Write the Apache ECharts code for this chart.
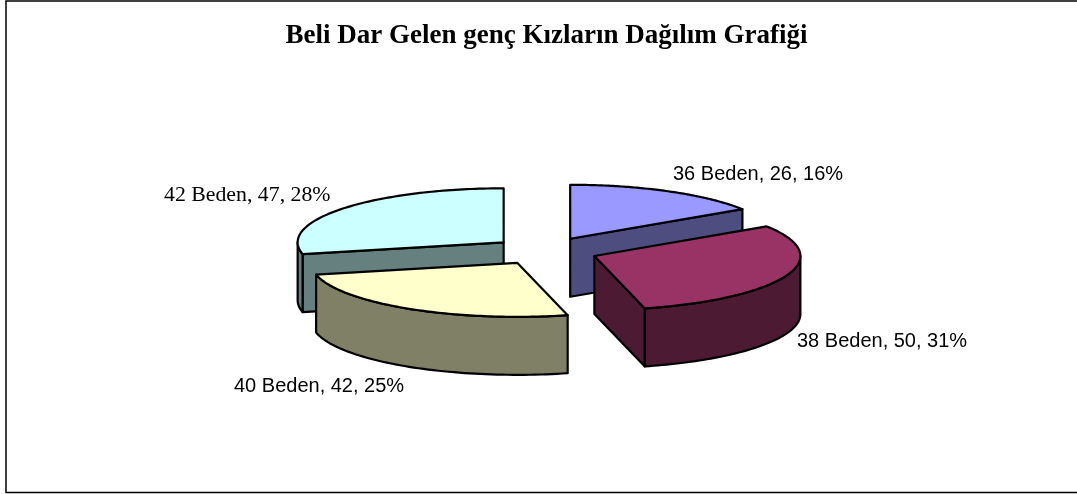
<!DOCTYPE html>
<html>
<head>
<meta charset="utf-8">
<style>html,body{margin:0;padding:0;background:#fff}#c{width:1077px;height:494px}</style>
<script src="https://cdn.jsdelivr.net/npm/echarts@6/dist/echarts.min.js"></script>
</head>
<body>
<div id="c"></div>
<script>
const categories = ['36 Beden', '38 Beden', '40 Beden', '42 Beden'];
const values = [26, 50, 42, 47];
const percents = [16, 31, 25, 28];
const topColors = ['#9999FF', '#993366', '#FFFFCC', '#CCFFFF'];
const sideColors = ['#4D4D80', '#4D1A33', '#808066', '#668080'];
const titleText = 'Beli Dar Gelen genç Kızların Dağılım Grafiği';

// Projection of the tilted pie
const view = { cx: 545, cy: 251, rx: 206, ry: 54, depth: 58, explode: 53 };
const labelPlaces = [
  { x: 673, y: 174, font: '20px "Liberation Sans"' },
  { x: 797, y: 341, font: '20px "Liberation Sans"' },
  { x: 234, y: 386, font: '20px "Liberation Sans"' },
  { x: 164, y: 195, font: '21.8px "Liberation Serif"' }
];
const drawOrder = [0, 3, 1, 2];

const total = values.reduce((a, b) => a + b, 0);
const starts = [];
values.reduce((acc, v, i) => { starts[i] = acc; return acc + v; }, 0);

function renderSlice(params, api) {
  const i = api.value(0);
  const a0 = starts[i] / total * 2 * Math.PI;
  const a1 = (starts[i] + api.value(1)) / total * 2 * Math.PI;
  const mid = (a0 + a1) / 2;
  const cx = view.cx + view.explode * Math.sin(mid);
  const cy = view.cy - view.explode * (view.ry / view.rx) * Math.cos(mid);
  const pt = (a, dz) => [cx + view.rx * Math.sin(a), cy - view.ry * Math.cos(a) + (dz || 0)];
  const apex = [cx, cy];
  const stroke = { stroke: '#000', lineWidth: 2.2, lineJoin: 'round' };
  const children = [];
  const poly = (points, fill) => children.push({
    type: 'polygon', shape: { points }, style: Object.assign({ fill }, stroke)
  });

  // radial wall facing the viewer
  const wall = a => poly([apex, pt(a), pt(a, view.depth), [cx, cy + view.depth]], sideColors[i]);
  if (Math.sin(a0) < -1e-6) wall(a0);
  if (Math.sin(a1) > 1e-6) wall(a1);

  // outer rim on the front half
  const f0 = Math.max(a0, Math.PI / 2), f1 = Math.min(a1, 3 * Math.PI / 2);
  if (f1 > f0) {
    const n = 60, upper = [], lower = [];
    for (let k = 0; k <= n; k++) {
      const a = f0 + (f1 - f0) * k / n;
      upper.push(pt(a));
      lower.unshift(pt(a, view.depth));
    }
    poly(upper.concat(lower), sideColors[i]);
  }

  // top face
  const top = [apex];
  const n = 90;
  for (let k = 0; k <= n; k++) top.push(pt(a0 + (a1 - a0) * k / n));
  poly(top, topColors[i]);

  // label
  const lp = labelPlaces[i];
  children.push({
    type: 'text',
    style: {
      x: lp.x, y: lp.y,
      text: categories[i] + ', ' + api.value(1) + ', ' + percents[i] + '%',
      font: lp.font, fill: '#000',
      textAlign: 'left', textVerticalAlign: 'middle'
    }
  });
  return { type: 'group', children };
}

const chart = echarts.init(document.getElementById('c'), null, { renderer: 'canvas' });
chart.setOption({
  animation: false,
  backgroundColor: '#fff',
  title: {
    text: titleText, left: 541.5, top: 18, textAlign: 'center',
    textStyle: { fontFamily: '"Liberation Serif"', fontWeight: 'bold', fontSize: 27, color: '#000' }
  },
  graphic: [{
    type: 'polyline',
    shape: { points: [[1077, 1], [6, 1], [6, 492.5], [1077, 492.5]] },
    style: { stroke: '#000', lineWidth: 1.5, fill: null }
  }],
  series: [{
    type: 'custom',
    coordinateSystem: 'none',
    renderItem: renderSlice,
    data: drawOrder.map(i => [i, values[i]]),
    silent: true
  }]
});
</script>
</body>
</html>
